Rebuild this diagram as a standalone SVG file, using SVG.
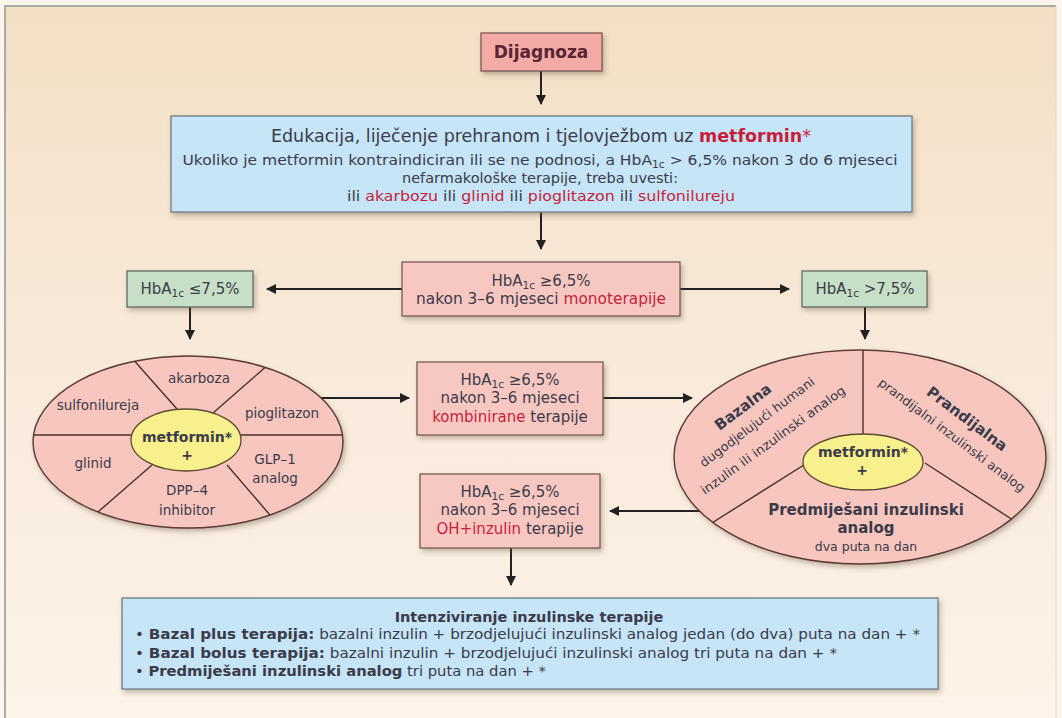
<svg xmlns="http://www.w3.org/2000/svg" width="1062" height="718" viewBox="0 0 1062 718">
<defs>
<linearGradient id="bg" x1="0" y1="0" x2="0" y2="1">
<stop offset="0" stop-color="#f3dfc4"/>
<stop offset="0.5" stop-color="#f8eadb"/>
<stop offset="1" stop-color="#fdf3e8"/>
</linearGradient>
<filter id="sh" x="-10%" y="-20%" width="125%" height="150%">
<feDropShadow dx="2" dy="3" stdDeviation="2.5" flood-color="#5a4030" flood-opacity="0.35"/>
</filter>
<marker id="ah" viewBox="0 0 10 10" refX="9" refY="5" markerWidth="5" markerHeight="5" orient="auto" markerUnits="strokeWidth">
<path d="M0,0 L10,5 L0,10 Z" fill="#222"/>
</marker>
<clipPath id="clipL"><ellipse cx="188" cy="442" rx="155" ry="86"/></clipPath>
<clipPath id="clipR"><ellipse cx="860" cy="457" rx="186" ry="107"/></clipPath>
<style>
text{font-family:"DejaVu Sans","Liberation Sans",sans-serif;fill:#3b3b4a;}
.c{text-anchor:middle;}
.b{font-weight:bold;}
.red{fill:#c81e3c;}
.pink{fill:#f7c8c2;stroke:#7a5a52;stroke-width:1.3;}
.blue{fill:#c6e5f6;stroke:#6d7c84;stroke-width:1.3;}
.green{fill:#c6dfc6;stroke:#5f6d5f;stroke-width:1.3;}
.ell{fill:#f6c6bf;stroke:#5a3a32;stroke-width:1.4;}
.yel{fill:#f7f08c;stroke:#5a4a32;stroke-width:1.3;}
.div{stroke:#4a3028;stroke-width:1.4;fill:none;}
.arr{stroke:#222;stroke-width:2;fill:none;marker-end:url(#ah);}
</style>
</defs>

<rect x="0" y="0" width="1062" height="718" fill="#fbf5ee"/>
<rect x="5" y="6" width="1051" height="712" fill="url(#bg)"/>
<line x1="4" y1="6" x2="1056" y2="6" stroke="#a9aba6" stroke-width="2"/>
<line x1="5" y1="6" x2="5" y2="718" stroke="#a9aba6" stroke-width="2"/>
<line x1="1056" y1="6" x2="1056" y2="718" stroke="#e2d8cc" stroke-width="1"/>

<g id="connectors">
<line class="arr" x1="541" y1="71" x2="541" y2="104"/>
<line class="arr" x1="541" y1="212" x2="541" y2="249"/>
<line class="arr" x1="402" y1="289" x2="267" y2="289"/>
<line class="arr" x1="680" y1="289" x2="789" y2="289"/>
<line class="arr" x1="190" y1="307" x2="190" y2="339"/>
<line class="arr" x1="865" y1="307" x2="865" y2="339"/>
<line class="arr" x1="321" y1="398" x2="409" y2="398"/>
<line class="arr" x1="603" y1="398" x2="692" y2="398"/>
<line class="arr" x1="701" y1="511" x2="610" y2="511"/>
<line class="arr" x1="511" y1="548" x2="511" y2="585"/>
</g>

<g id="dijagnoza">
<rect class="pink" x="481" y="33" width="121" height="38" fill="#f4aaa5" style="fill:#f4aaa5" filter="url(#sh)"/>
<text class="c b" x="541" y="58" font-size="17" style="fill:#5a2434">Dijagnoza</text>
</g>

<g id="edukacija">
<rect class="blue" x="171" y="116" width="741" height="96" filter="url(#sh)"/>
<text class="c" x="541" y="142" font-size="17" textLength="540" lengthAdjust="spacingAndGlyphs">Edukacija, liječenje prehranom i tjelovježbom uz <tspan class="b red">metformin</tspan><tspan class="red">*</tspan></text>
<text class="c" x="540" y="165" font-size="14.5" textLength="715" lengthAdjust="spacingAndGlyphs">Ukoliko je metformin kontraindiciran ili se ne podnosi, a HbA<tspan font-size="10" dy="3">1c</tspan><tspan dy="-3"> &gt; 6,5% nakon 3 do 6 mjeseci</tspan></text>
<text class="c" x="540" y="183" font-size="14.5">nefarmakološke terapije, treba uvesti:</text>
<text class="c" x="541" y="201" font-size="14.5" textLength="388" lengthAdjust="spacingAndGlyphs">ili <tspan class="red">akarbozu</tspan> ili <tspan class="red">glinid</tspan> ili <tspan class="red">pioglitazon</tspan> ili <tspan class="red">sulfonilureju</tspan></text>
</g>

<g id="monoterapija">
<rect class="pink" x="402" y="262" width="278" height="54" filter="url(#sh)"/>
<text class="c" x="541" y="286" font-size="15">HbA<tspan font-size="10.5" dy="3">1c</tspan><tspan dy="-3"> ≥6,5%</tspan></text>
<text class="c" x="541" y="304" font-size="15" textLength="250" lengthAdjust="spacingAndGlyphs">nakon 3–6 mjeseci <tspan class="red">monoterapije</tspan></text>
</g>

<g id="hba-le75">
<rect class="green" x="127" y="271" width="126" height="36" filter="url(#sh)"/>
<text class="c" x="190" y="294" font-size="15">HbA<tspan font-size="10.5" dy="3">1c</tspan><tspan dy="-3"> ≤7,5%</tspan></text>
</g>

<g id="hba-gt75">
<rect class="green" x="802" y="271" width="125" height="36" filter="url(#sh)"/>
<text class="c" x="865" y="294" font-size="15">HbA<tspan font-size="10.5" dy="3">1c</tspan><tspan dy="-3"> &gt;7,5%</tspan></text>
</g>

<g id="oral-combination">
<ellipse class="ell" cx="188" cy="442" rx="155" ry="86" filter="url(#sh)"/>
<g clip-path="url(#clipL)">
<line class="div" x1="20" y1="435" x2="360" y2="435"/>
<line class="div" x1="177" y1="409" x2="100" y2="322"/>
<line class="div" x1="213" y1="413" x2="310" y2="328"/>
<line class="div" x1="152" y1="465" x2="60" y2="545"/>
<line class="div" x1="227" y1="465" x2="300" y2="550"/>
</g>
<ellipse class="yel" cx="186" cy="440" rx="55" ry="31"/>
<text class="c b" x="187" y="442" font-size="14">metformin*</text>
<text class="c b" x="187" y="460" font-size="14">+</text>
<text class="c" x="199" y="383" font-size="13.5">akarboza</text>
<text class="c" x="98" y="410" font-size="13.5">sulfonilureja</text>
<text class="c" x="282" y="418" font-size="13.5">pioglitazon</text>
<text class="c" x="93" y="468" font-size="13.5">glinid</text>
<text class="c" x="275" y="464" font-size="13.5">GLP–1</text>
<text class="c" x="275" y="483" font-size="13.5">analog</text>
<text class="c" x="187" y="495" font-size="13.5">DPP–4</text>
<text class="c" x="187" y="515" font-size="13.5">inhibitor</text>
</g>

<g id="kombinirana">
<rect class="pink" x="417" y="362" width="186" height="73" filter="url(#sh)"/>
<text class="c" x="510" y="385" font-size="15">HbA<tspan font-size="10.5" dy="3">1c</tspan><tspan dy="-3"> ≥6,5%</tspan></text>
<text class="c" x="510" y="403" font-size="15">nakon 3–6 mjeseci</text>
<text class="c" x="510" y="422" font-size="15"><tspan class="red">kombinirane</tspan> terapije</text>
</g>

<g id="oh-inzulin">
<rect class="pink" x="420" y="474" width="180" height="74" filter="url(#sh)"/>
<text class="c" x="510" y="497" font-size="15">HbA<tspan font-size="10.5" dy="3">1c</tspan><tspan dy="-3"> ≥6,5%</tspan></text>
<text class="c" x="510" y="515" font-size="15">nakon 3–6 mjeseci</text>
<text class="c" x="510" y="534" font-size="15"><tspan class="red">OH+inzulin</tspan> terapije</text>
</g>

<g id="insulin-combination">
<ellipse class="ell" cx="860" cy="457" rx="186" ry="107" filter="url(#sh)"/>
<g clip-path="url(#clipR)">
<line class="div" x1="863" y1="340" x2="863" y2="440"/>
<line class="div" x1="807" y1="463" x2="650" y2="562"/>
<line class="div" x1="925" y1="463" x2="1070" y2="557"/>
</g>
<ellipse class="yel" cx="863" cy="462" rx="60" ry="28"/>
<text class="c b" x="863" y="457" font-size="14">metformin*</text>
<text class="c b" x="862" y="475" font-size="14">+</text>
<text class="c b" font-size="15" dominant-baseline="central" transform="translate(743,407) rotate(-37)">Bazalna</text>
<text class="c" font-size="12.5" dominant-baseline="central" textLength="140" lengthAdjust="spacingAndGlyphs" transform="translate(757,422) rotate(-37)">dugodjelujući humani</text>
<text class="c" font-size="12.5" dominant-baseline="central" textLength="175" lengthAdjust="spacingAndGlyphs" transform="translate(773,440) rotate(-36)">inzulin ili inzulinski analog</text>
<text class="c b" font-size="15" dominant-baseline="central" transform="translate(967,419) rotate(37)">Prandijalna</text>
<text class="c" font-size="12.5" dominant-baseline="central" textLength="180" lengthAdjust="spacingAndGlyphs" transform="translate(952,435) rotate(37)">prandijalni inzulinski analog</text>
<text class="c b" x="866" y="515" font-size="15">Predmiješani inzulinski</text>
<text class="c b" x="866" y="533" font-size="15">analog</text>
<text class="c" x="866" y="551" font-size="12.5">dva puta na dan</text>
</g>

<g id="intenziviranje">
<rect class="blue" x="122" y="598" width="816" height="91" filter="url(#sh)"/>
<text class="c b" x="529" y="622" font-size="14.5">Intenziviranje inzulinske terapije</text>
<text x="135" y="639" font-size="14.5" textLength="785" lengthAdjust="spacingAndGlyphs">• <tspan class="b">Bazal plus terapija:</tspan> bazalni inzulin + brzodjelujući inzulinski analog jedan (do dva) puta na dan + *</text>
<text x="135" y="658" font-size="14.5" textLength="702" lengthAdjust="spacingAndGlyphs">• <tspan class="b">Bazal bolus terapija:</tspan> bazalni inzulin + brzodjelujući inzulinski analog tri puta na dan + *</text>
<text x="135" y="676" font-size="14.5" textLength="411" lengthAdjust="spacingAndGlyphs">• <tspan class="b">Predmiješani inzulinski analog</tspan> tri puta na dan + *</text>
</g>
</svg>
